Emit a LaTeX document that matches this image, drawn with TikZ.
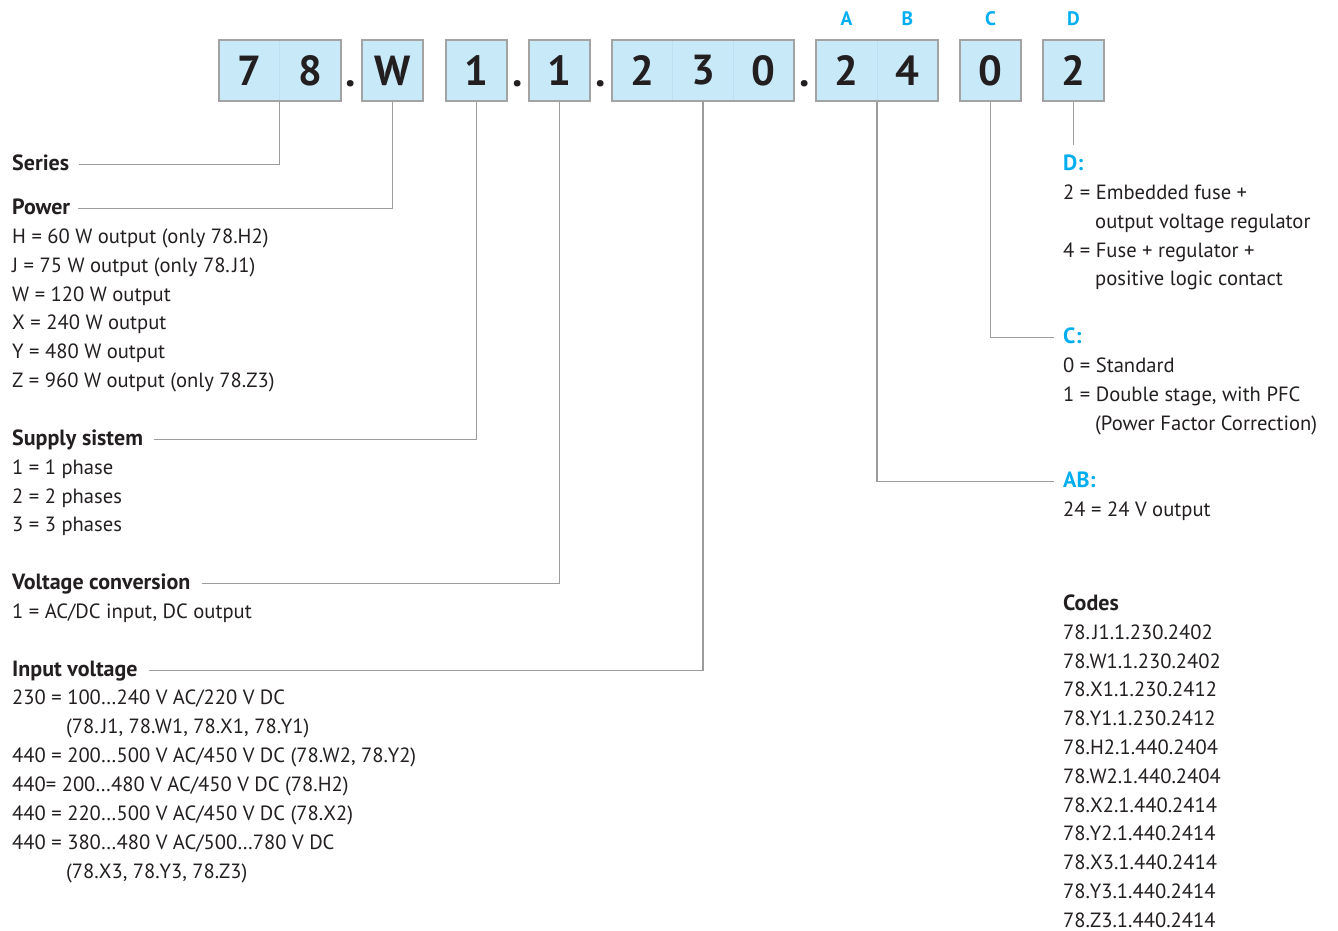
\documentclass[tikz,border=0pt]{standalone}
\usepackage{fontspec}
\setmainfont{PT Sans}
\usetikzlibrary{fit,calc}
\definecolor{cellblue}{HTML}{C8E9F8}
\definecolor{seamblue}{HTML}{BCE0F0}
\definecolor{boxgrey}{HTML}{A3A3A3}
\definecolor{leadgrey}{HTML}{9C9C9C}
\definecolor{keycyan}{HTML}{00AEEF}
\definecolor{inkdark}{HTML}{231F20}
\newcommand{\dotJ}{.\kern2.5pt J}

\begin{document}
\begin{tikzpicture}[x=1pt,y=-1pt,
  cell/.style={fill=cellblue,draw=seamblue,line width=0.6pt,minimum width=60.7pt,minimum height=61pt,inner sep=0pt,font=\fontsize{42}{42}\selectfont\bfseries,text=inkdark},
  group/.style={draw=boxgrey,line width=1.8pt,inner sep=0pt},
  sep/.style={font=\fontsize{42}{42}\selectfont\bfseries,text=inkdark,inner sep=0pt,anchor=base},
  key/.style={font=\fontsize{19.5}{19.5}\selectfont\bfseries,text=keycyan,inner sep=0pt,anchor=base},
  head/.style={font=\fontsize{22}{22}\selectfont\bfseries,text=inkdark,inner sep=0pt,anchor=base west},
  cyanhead/.style={head,text=keycyan},
  txt/.style={font=\fontsize{20.6}{20.6}\selectfont,text=inkdark,inner sep=0pt,anchor=base west},
  lead/.style={draw=leadgrey,line width=1.2pt}]

\useasboundingbox (0,0) rectangle (1338,931);

% code cells
\foreach \n/\x/\d in {s1/249.5/7,s2/310/8,pw/392.5/W,ss/476.5/1,vc/559.5/1,iv1/642.5/2,iv2/703/3,iv3/763.5/0,ab1/846.5/2,ab2/907.5/4,oc/990.5/0,od/1073.5/2}
  \node[cell] (\n) at (\x,70.5) {\d};
\node[group,fit=(s1)(s2)] (g78) {};
\node[group,fit=(pw)] (gpw) {};
\node[group,fit=(ss)] (gss) {};
\node[group,fit=(vc)] (gvc) {};
\node[group,fit=(iv1)(iv3)] (giv) {};
\node[group,fit=(ab1)(ab2)] (gab) {};
\node[group,fit=(oc)] (goc) {};
\node[group,fit=(od)] (god) {};
\foreach \n/\x in {dt1/351,dt2/518,dt3/601,dt4/805}
  \node[sep] (\n) at (\x,87) {.};
\foreach \n/\x/\l in {ka/846.5/A,kb/907.5/B,kc/990.5/C,kd/1073.5/D}
  \node[key] (\n) at (\x,26) {\l};

% left column
\node[head] (series) at (12,170.5) {Series};
\node[head] (power) at (12,214.5) {Power};
\foreach \t [count=\i] in {H = 60 W output (only 78.H2),J = 75 W output (only 78\dotJ1),W = 120 W output,X = 240 W output,Y = 480 W output,Z = 960 W output (only 78.Z3)}
  \node[txt] (pwl\i) at (12,{214.5+28.85*\i}) {\t};
\node[head] (supply) at (12,{214.5+28.85*8}) {Supply sistem};
\foreach \t [count=\i from 9] in {1 = 1 phase,2 = 2 phases,3 = 3 phases}
  \node[txt] (ssl\i) at (12,{214.5+28.85*\i}) {\t};
\node[head] (conv) at (12,{214.5+28.85*13}) {Voltage conversion};
\node[txt] (vcl14) at (12,{214.5+28.85*14}) {1 = AC/DC input, DC output};
\node[head] (input) at (12,{214.5+28.85*16}) {Input voltage};
\foreach \x/\t [count=\i from 17] in {12/{230 = 100…240 V AC/220 V DC},66/{(78\dotJ1, 78.W1, 78.X1, 78.Y1)},12/{440 = 200…500 V AC/450 V DC (78.W2, 78.Y2)},12/{440= 200…480 V AC/450 V DC (78.H2)},12/{440 = 220…500 V AC/450 V DC (78.X2)},12/{440 = 380…480 V AC/500…780 V DC},66/{(78.X3, 78.Y3, 78.Z3)}}
  \node[txt] (ivl\i) at (\x,{214.5+28.85*\i}) {\t};

% right column
\node[cyanhead] (dh) at (1063,170.5) {D:};
\foreach \x/\t [count=\i] in {1063/{2 = Embedded fuse +},1095/{output voltage regulator},1063/{4 = Fuse + regulator +},1095/{positive logic contact}}
  \node[txt] (dl\i) at (\x,{170.5+28.85*\i}) {\t};
\node[cyanhead] (ch) at (1063,{170.5+28.85*6}) {C:};
\foreach \x/\t [count=\i from 7] in {1063/{0 = Standard},1063/{1 = Double stage, with PFC},1095/{(Power Factor Correction)}}
  \node[txt] (cl\i) at (\x,{170.5+28.85*\i}) {\t};
\node[cyanhead] (abh) at (1063,{170.5+28.85*11}) {AB:};
\node[txt] (abl12) at (1063,{170.5+28.85*12}) {24 = 24 V output};
\node[head] (codes) at (1063,610.5) {Codes};
\foreach \t [count=\i] in {78\dotJ1.1.230.2402,78.W1.1.230.2402,78.X1.1.230.2412,78.Y1.1.230.2412,78.H2.1.440.2404,78.W2.1.440.2404,78.X2.1.440.2414,78.Y2.1.440.2414,78.X3.1.440.2414,78.Y3.1.440.2414,78.Z3.1.440.2414}
  \node[txt] (code\i) at (1063,{610.5+28.8*\i}) {\t};

% leader lines
\draw[lead] (g78.south) |- ([xshift=10pt,yshift=6pt]series.base east);
\draw[lead] (gpw.south) |- ([xshift=8pt,yshift=6pt]power.base east);
\draw[lead] (gss.south) |- ([xshift=11pt,yshift=6pt]supply.base east);
\draw[lead] (gvc.south) |- ([xshift=11pt,yshift=6pt]conv.base east);
\draw[lead] (iv2.south) |- ([xshift=11pt,yshift=6pt]input.base east);
\draw[lead] (gab.south) |- ([xshift=-9pt,yshift=6pt]abh.base west);
\draw[lead] (goc.south) |- ([xshift=-9pt,yshift=6pt]ch.base west);
\draw[lead] (god.south) -- ($(god.south |- dh.north)+(0pt,10pt)$);
\end{tikzpicture}
\end{document}
